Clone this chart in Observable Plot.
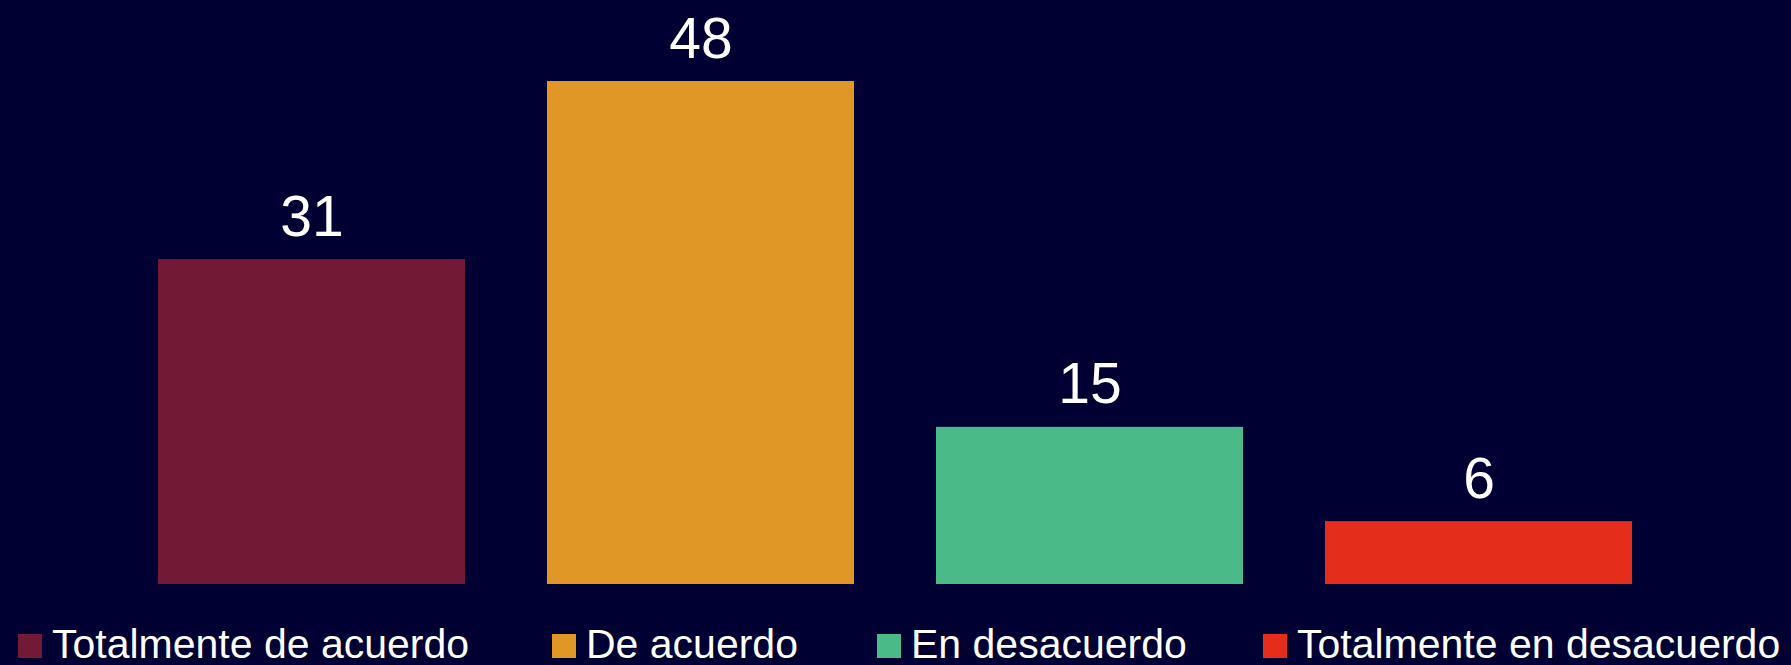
<!DOCTYPE html>
<html>
<head>
<meta charset="utf-8">
<script src="https://cdn.jsdelivr.net/npm/d3@7"></script>
<script src="https://cdn.jsdelivr.net/npm/@observablehq/plot@0.6"></script>
<style>
  html, body { margin: 0; padding: 0; background: #000033; width: 1791px; height: 665px; overflow: hidden; }
  #chart svg { display: block; }
  #legend { position: relative; height: 44px; font-family: "Liberation Sans", Arial, sans-serif; font-size: 41px; color: #ffffff; white-space: nowrap; line-height: normal; }
  #legend .item { position: absolute; top: 0; }
  #legend .sw { display: inline-block; width: 24px; height: 24px; margin-right: 10px; vertical-align: baseline; }
</style>
</head>
<body>
<div id="chart"></div>
<div id="legend"></div>
<script>
const categories = ["Totalmente de acuerdo", "De acuerdo", "En desacuerdo", "Totalmente en desacuerdo"];
const values = [31, 48, 15, 6];
const colors = ["#721A35", "#E09726", "#4ABA89", "#E52D1B"];

// legend layout (pixel offsets of each swatch)
const legendX = [18, 552, 877, 1263];

const data = categories.map((c, i) => ({category: c, value: values[i]}));

const chart = Plot.plot({
  width: 1791,
  height: 621,
  marginTop: 81,
  marginBottom: 37,
  marginLeft: 156,
  marginRight: 158,
  style: {background: "#000033", fontFamily: "'Liberation Sans', Arial, sans-serif"},
  x: {domain: categories, paddingInner: 0.212, paddingOuter: 0, axis: null},
  y: {domain: [0, 48], axis: null},
  color: {domain: categories, range: colors},
  marks: [
    Plot.barY(data, {x: "category", y: "value", fill: "category"}),
    Plot.text(data, {x: "category", y: "value", text: d => String(d.value), fill: "#ffffff", fontSize: 57, lineAnchor: "bottom", dy: -24})
  ]
});
document.getElementById("chart").appendChild(chart);

const legend = document.getElementById("legend");
categories.forEach((c, i) => {
  const item = document.createElement("span");
  item.className = "item";
  item.style.left = legendX[i] + "px";
  const sw = document.createElement("span");
  sw.className = "sw";
  sw.style.background = colors[i];
  item.appendChild(sw);
  item.appendChild(document.createTextNode(c));
  legend.appendChild(item);
});
</script>
</body>
</html>
